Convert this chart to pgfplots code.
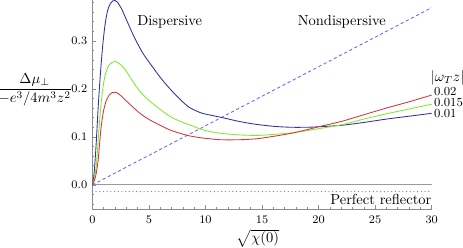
\documentclass[border=0pt]{standalone}
\usepackage{pgfplots}
\pgfplotsset{compat=1.18}
\definecolor{cblue}{rgb}{0.2,0.2,0.62}
\definecolor{cgreen}{rgb}{0.5,0.92,0.18}
\definecolor{cred}{rgb}{0.84,0.22,0.22}
\definecolor{cdash}{rgb}{0.4,0.4,1}
\definecolor{cdot}{rgb}{0.45,0.45,1}
\begin{document}
\begin{tikzpicture}
\begin{axis}[
  name=ax, at={(0,0)}, anchor=south west,
  scale only axis, width=234.1pt, height=144.1pt,
  xmin=0, xmax=30, ymin=-0.05, ymax=0.385,
  axis x line*=bottom, axis y line*=left,
  axis line style={black!45, line width=0.5pt},
  tick align=inside, major tick length=2.6pt, minor tick length=1.4pt,
  tick style={black!45, line width=0.4pt},
  xtick={0,5,...,30}, minor xtick={1,2,3,4,6,7,8,9,11,12,13,14,16,17,18,19,21,22,23,24,26,27,28,29},
  ytick={0,0.1,0.2,0.3},
  minor ytick={-0.04,-0.02,0.02,0.04,0.06,0.08,0.12,0.14,0.16,0.18,0.22,0.24,0.26,0.28,0.32,0.34,0.36,0.38},
  ticklabel style={font=\footnotesize},
  yticklabel style={/pgf/number format/.cd,fixed,fixed zerofill,precision=1},
  xticklabel style={yshift=-1.5pt},
  xlabel={$\sqrt{\chi(0)}$},
  xlabel style={at={(axis description cs:0.488,0)}, anchor=center, yshift=-20.3pt},
  ylabel={$\displaystyle\frac{\Delta\mu_\perp}{-e^3/4m^3z^2}$},
  ylabel style={rotate=-90, at={(axis description cs:-0.1697,0.570)}, anchor=center},
  clip=false,
]
\addplot[black!40, line width=0.6pt] coordinates {(0,0) (30,0)};
\addplot[cdot, line width=0.9pt, line cap=round, dash pattern=on 0pt off 2.55pt] coordinates {(0,-0.014) (30,-0.014)};
\addplot[cdash, line width=0.6pt, dash pattern=on 2.2pt off 1.8pt] coordinates {(0,0) (30,0.369)};
% |omega_T z| = 0.01
\addplot[cblue, line width=0.6pt, smooth] coordinates {
(0,0) (0.1,0.012) (0.2,0.036) (0.35,0.09) (0.5,0.155) (0.65,0.21) (0.8,0.258) (0.95,0.298)
(1.1,0.329) (1.25,0.352) (1.4,0.367) (1.6,0.378) (1.8,0.383) (2.0,0.384) (2.2,0.381)
(2.4,0.374) (2.6,0.366) (2.9,0.350) (3.2,0.334) (3.6,0.313) (4.0,0.294) (4.5,0.273)
(5.1,0.253) (6.0,0.224) (6.9,0.199) (7.8,0.177) (8.6,0.161) (9.6,0.150) (10.5,0.145)
(11.5,0.140) (13,0.132) (14.5,0.126) (16,0.122) (17.5,0.120) (19,0.120) (20,0.121)
(22,0.124) (24,0.130) (26,0.137) (28,0.143) (30,0.149)};
% 0.015
\addplot[cgreen, line width=0.6pt, smooth] coordinates {
(0,0) (0.15,0.01) (0.35,0.04) (0.5,0.088) (0.65,0.135) (0.8,0.175) (0.95,0.205) (1.1,0.225)
(1.3,0.241) (1.5,0.250) (1.75,0.255) (2.0,0.257) (2.3,0.254) (2.6,0.248) (2.9,0.240)
(3.4,0.222) (4.0,0.201) (4.5,0.187) (5.1,0.174) (6.0,0.157) (6.9,0.142) (7.8,0.132)
(8.6,0.125) (9.6,0.116) (10.4,0.111) (11.5,0.107) (13,0.104) (14.6,0.103) (16,0.105)
(17.5,0.108) (19,0.113) (20,0.117) (22,0.125) (24,0.137) (26,0.148) (28,0.158) (30,0.168)};
% 0.02
\addplot[cred, line width=0.6pt, smooth] coordinates {
(0,0) (0.2,0.01) (0.35,0.025) (0.5,0.048) (0.65,0.088) (0.8,0.125) (1.0,0.155) (1.24,0.176)
(1.5,0.187) (1.75,0.192) (2.0,0.193) (2.3,0.190) (2.6,0.184) (2.9,0.177) (3.4,0.166)
(4.0,0.153) (4.5,0.144) (5.1,0.135) (6.0,0.124) (6.9,0.114) (7.8,0.107) (8.6,0.102)
(9.6,0.098) (10.4,0.096) (11.3,0.094) (13,0.094) (14.5,0.096) (16,0.101) (17.5,0.107)
(19,0.115) (20,0.121) (22,0.132) (24,0.146) (26,0.160) (28,0.173) (30,0.187)};
\node[anchor=base, inner sep=0] at (axis cs:6.84,0.332) {Dispersive};
\node[anchor=base, inner sep=0] at (axis cs:22.05,0.332) {Nondispersive};
\node[anchor=east, inner sep=0] at (axis cs:30,-0.030) {Perfect reflector};
\node[anchor=west, inner sep=0, xshift=-0.8pt, font=\fontsize{9.6}{11}\selectfont] at (axis cs:30,0.223) {$|\omega_T z|$};
\node[anchor=west, inner sep=0, font=\fontsize{8.5}{10}\selectfont, xshift=1.4pt] at (axis cs:30,0.194) {0.02};
\node[anchor=west, inner sep=0, font=\fontsize{8.5}{10}\selectfont, xshift=1.4pt] at (axis cs:30,0.172) {0.015};
\node[anchor=west, inner sep=0, font=\fontsize{8.5}{10}\selectfont, xshift=1.4pt] at (axis cs:30,0.148) {0.01};
\end{axis}
\pgfresetboundingbox
\path (-63.7pt,-26.9pt) rectangle (255.7pt,144.1pt);
\end{tikzpicture}
\end{document}
